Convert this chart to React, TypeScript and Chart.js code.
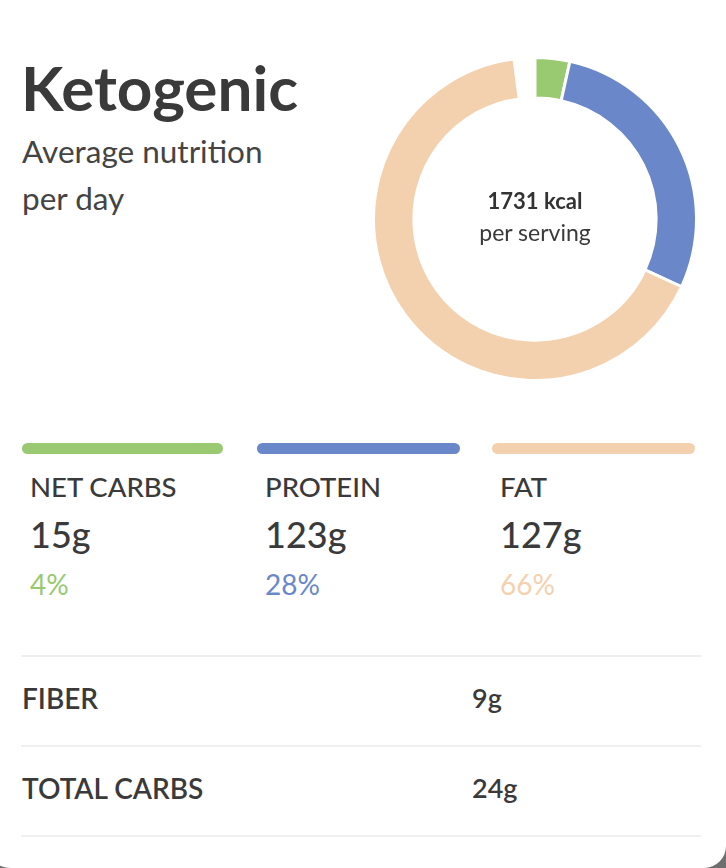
import React, { useEffect, useRef } from "react";
import { Chart, registerables } from "chart.js";

Chart.register(...registerables);

// ---- data ----
const macroLabels = ["NET CARBS", "PROTEIN", "FAT"];
const macroGrams = ["15g", "123g", "127g"];
const macroPercents = ["4%", "28%", "66%"];
const macroColors = ["#99c970", "#6a88c9", "#f4d1ae"];
// calories per macro (kcal) plus the unassigned rest of 1731 kcal
const arcLabels = ["Net carbs", "Protein", "Fat", "Other"];
const arcKcal = [60, 492, 1143, 36];
const totalKcal = "1731 kcal";
const extraLabels = ["FIBER", "TOTAL CARBS"];
const extraValues = ["9g", "24g"];

const FONT = "Lato, 'Noto Sans', sans-serif";
const TEXT = "#3a3a3a";

export default function App() {
  const canvasRef = useRef<HTMLCanvasElement | null>(null);

  useEffect(() => {
    document.body.style.margin = "0";
    const ctx = canvasRef.current;
    if (!ctx) return;
    const chart = new Chart(ctx, {
      type: "doughnut",
      data: {
        labels: arcLabels,
        datasets: [
          {
            data: arcKcal,
            backgroundColor: [...macroColors, "rgba(0,0,0,0)"],
            borderColor: "#ffffff",
            borderWidth: [3, 3, 3, 0],
            hoverOffset: 0,
          },
        ],
      },
      options: {
        responsive: false,
        animation: false,
        cutout: "75%",
        layout: { padding: 0 },
        plugins: {
          legend: { display: false },
          tooltip: { enabled: false },
        },
      },
    });
    return () => chart.destroy();
  }, []);

  const colX = [22, 257, 492];
  const barW = [201, 203, 203];

  return (
    <div
      style={{
        position: "fixed",
        left: 0,
        top: 0,
        width: 726,
        height: 868,
        background: "#6f6f6f",
        overflow: "hidden",
        fontFamily: FONT,
        color: TEXT,
      }}
    >
      <div
        style={{
          position: "absolute",
          left: -12,
          top: -30,
          width: 738,
          height: 898,
          background: "#ffffff",
          borderRadius: 22,
        }}
      />
      {/* title */}
      <div
        style={{
          position: "absolute",
          left: 21,
          top: 56,
          fontSize: 62,
          lineHeight: "62px",
          fontWeight: 700,
          whiteSpace: "nowrap",
        }}
      >
        Ketogenic
      </div>
      <div
        style={{
          position: "absolute",
          left: 22,
          top: 128,
          fontSize: 31.5,
          lineHeight: "47px",
          fontWeight: 400,
          color: "#444",
        }}
      >
        Average nutrition
        <br />
        per day
      </div>

      {/* doughnut */}
      <canvas
        ref={canvasRef}
        width={326}
        height={326}
        style={{ position: "absolute", left: 372, top: 56, width: 326, height: 326 }}
      />
      <div
        style={{
          position: "absolute",
          left: 435,
          width: 200,
          top: 190,
          textAlign: "center",
          fontSize: 22,
          lineHeight: "22px",
          fontWeight: 700,
          color: "#333",
        }}
      >
        {totalKcal}
      </div>
      <div
        style={{
          position: "absolute",
          left: 435,
          width: 200,
          top: 221,
          textAlign: "center",
          fontSize: 23,
          lineHeight: "23px",
          fontWeight: 400,
          color: "#3a3a3a",
        }}
      >
        per serving
      </div>

      {/* macro columns */}
      {macroLabels.map((lab, i) => (
        <React.Fragment key={lab}>
          <div
            style={{
              position: "absolute",
              left: colX[i],
              top: 443,
              width: barW[i],
              height: 11,
              borderRadius: 6,
              background: macroColors[i],
            }}
          />
          <div
            style={{
              position: "absolute",
              left: colX[i] + 8,
              top: 473,
              fontSize: 27.5,
              lineHeight: "27.5px",
              fontWeight: 500,
              whiteSpace: "nowrap",
            }}
          >
            {lab}
          </div>
          <div
            style={{
              position: "absolute",
              left: colX[i] + 8,
              top: 516,
              fontSize: 36,
              lineHeight: "36px",
              fontWeight: 500,
              whiteSpace: "nowrap",
            }}
          >
            {macroGrams[i]}
          </div>
          <div
            style={{
              position: "absolute",
              left: colX[i] + 8,
              top: 570,
              fontSize: 28,
              lineHeight: "28px",
              fontWeight: 400,
              color: macroColors[i],
              whiteSpace: "nowrap",
            }}
          >
            {macroPercents[i]}
          </div>
        </React.Fragment>
      ))}

      {/* separators */}
      {[655, 745, 835].map((y) => (
        <div
          key={y}
          style={{
            position: "absolute",
            left: 21,
            top: y,
            width: 680,
            height: 2,
            background: "#efefef",
          }}
        />
      ))}

      {extraLabels.map((lab, i) => (
        <React.Fragment key={lab}>
          <div
            style={{
              position: "absolute",
              left: 22,
              top: 684 + i * 90,
              fontSize: 28,
              lineHeight: "28px",
              fontWeight: 600,
              whiteSpace: "nowrap",
            }}
          >
            {lab}
          </div>
          <div
            style={{
              position: "absolute",
              left: 472,
              top: 684 + i * 90,
              fontSize: 27,
              lineHeight: "27px",
              fontWeight: 600,
              whiteSpace: "nowrap",
            }}
          >
            {extraValues[i]}
          </div>
        </React.Fragment>
      ))}
    </div>
  );
}
